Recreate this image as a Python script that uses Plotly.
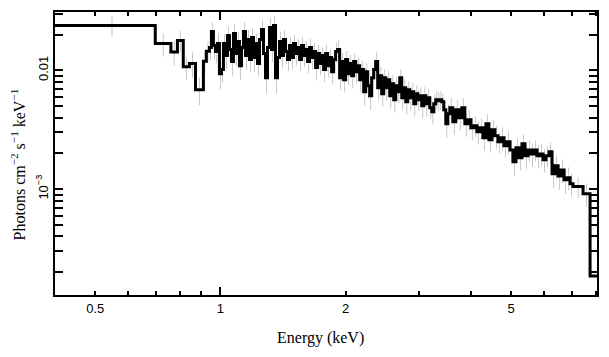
import numpy as np
import plotly.graph_objects as go

# Energy bin edges (keV)
energy_edges = [
    0.4, 0.697, 0.760, 0.788, 0.814, 0.842, 0.871, 0.910, 0.925, 0.941,
    0.9513, 0.9619, 0.9726, 0.9835, 0.9945, 1.0056, 1.0168, 1.0281, 1.0396, 1.0512,
    1.0629, 1.0748, 1.0868, 1.0989, 1.1112, 1.1236, 1.1361, 1.1488, 1.1616, 1.1745,
    1.1877, 1.2009, 1.2143, 1.2279, 1.2416, 1.2554, 1.2694, 1.2836, 1.2979, 1.3124,
    1.3270, 1.3418, 1.3568, 1.3719, 1.3872, 1.4027, 1.4183, 1.4342, 1.4502, 1.4663,
    1.4827, 1.4993, 1.5160, 1.5329, 1.5500, 1.5673, 1.5849, 1.6025, 1.6204, 1.6385,
    1.6568, 1.6753, 1.6940, 1.7128, 1.7320, 1.7513, 1.7708, 1.7906, 1.8106, 1.8308,
    1.8512, 1.8719, 1.8927, 1.9139, 1.9352, 1.9568, 1.9787, 2.0007, 2.0231, 2.0456,
    2.0685, 2.0916, 2.1149, 2.1385, 2.1624, 2.1865, 2.2109, 2.2356, 2.2605, 2.2857,
    2.3112, 2.3370, 2.3631, 2.3894, 2.4161, 2.4430, 2.4703, 2.4978, 2.5257, 2.5539,
    2.5824, 2.6112, 2.6403, 2.6698, 2.6996, 2.7297, 2.7601, 2.7909, 2.8221, 2.8535,
    2.8854, 2.9176, 2.9501, 2.9830, 3.0163, 3.0500, 3.0840, 3.1184, 3.1532, 3.1883,
    3.2239, 3.2599, 3.2962, 3.3330, 3.3702, 3.4078, 3.4458, 3.4843, 3.5231, 3.5624,
    3.6222, 3.6830, 3.7449, 3.8078, 3.8717, 3.9367, 4.0033, 4.0705, 4.1388, 4.2083,
    4.2790, 4.3508, 4.4239, 4.4982, 4.5737, 4.6505, 4.7286, 4.8080, 4.8887, 4.9708,
    5.0543, 5.1391, 5.2254, 5.3131, 5.4024, 5.4931, 5.5853, 5.6791, 5.7744, 5.8714,
    5.9700, 6.0702, 6.1721, 6.2758, 6.3811, 6.4883, 6.5972, 6.7080, 6.8206, 6.9351,
    7.050, 7.452, 7.747, 8.05,
]

# Unfolded flux per bin (photons cm^-2 s^-1 keV^-1)
flux = [
    0.0238, 0.0168, 0.0143, 0.0178, 0.0107, 0.0114, 0.00688, 0.0119, 0.0145,
    0.01554, 0.02121, 0.01615, 0.01438, 0.01680, 0.00938, 0.01014, 0.01680, 0.01330, 0.01962,
    0.01495, 0.01184, 0.02039, 0.01383, 0.01746, 0.01095, 0.01554, 0.02121, 0.01330, 0.01815,
    0.01231, 0.01887, 0.01280, 0.01680, 0.01139, 0.01815, 0.02204, 0.01383, 0.00868, 0.01554,
    0.02291, 0.01495, 0.02381, 0.00868, 0.01280, 0.01746, 0.01330, 0.01815, 0.01438, 0.01231,
    0.01615, 0.01280, 0.01680, 0.01383, 0.01554, 0.01231, 0.01615, 0.01330, 0.01495, 0.01184,
    0.01554, 0.01280, 0.01438, 0.01054, 0.01383, 0.01139, 0.01330, 0.01014, 0.01383, 0.01095,
    0.01280, 0.00975, 0.01231, 0.01438, 0.01495, 0.00868, 0.01184, 0.00835, 0.01231, 0.00938,
    0.01139, 0.00902, 0.01184, 0.00975, 0.01095, 0.00835, 0.01014, 0.00661, 0.00975, 0.00743,
    0.00612, 0.00868, 0.01014, 0.01184, 0.00715, 0.00902, 0.00636, 0.00868, 0.00715, 0.00835,
    0.00612, 0.00772, 0.00566, 0.00743, 0.00661, 0.00868, 0.00589, 0.00715, 0.00545, 0.00688,
    0.00589, 0.00661, 0.00524, 0.00636, 0.00566, 0.00612, 0.00504, 0.00612, 0.00524, 0.00589,
    0.00485, 0.00449, 0.00524, 0.00566, 0.00555, 0.00566, 0.00545, 0.00466, 0.00355, 0.00431,
    0.00485, 0.00369, 0.00466, 0.00399, 0.00485, 0.00355, 0.00384, 0.00329, 0.00342, 0.00304,
    0.00329, 0.00271, 0.00355, 0.00260, 0.00316, 0.00281, 0.00250, 0.00271, 0.00232, 0.00250,
    0.00214, 0.00170, 0.00223, 0.00184, 0.00241, 0.00191, 0.00214, 0.00198, 0.00214, 0.00191,
    0.00198, 0.00177, 0.00191, 0.00206, 0.00135, 0.00157, 0.00129, 0.00145, 0.00120, 0.00125,
    0.00111, 0.00105, 0.000913, 0.000186,
]

# Relative 1-sigma errors per bin
rel_err = [
    0.20, 0.22, 0.24, 0.20, 0.22, 0.24, 0.26, 0.22, 0.20,
    0.22, 0.20, 0.24, 0.20, 0.22, 0.26, 0.22, 0.20, 0.24, 0.20,
    0.22, 0.24, 0.20, 0.22, 0.20, 0.24, 0.22, 0.20, 0.24, 0.20,
    0.22, 0.20, 0.24, 0.20, 0.22, 0.20, 0.20, 0.22, 0.26, 0.20,
    0.20, 0.22, 0.20, 0.26, 0.22, 0.20, 0.22, 0.20, 0.22, 0.20,
    0.18, 0.20, 0.18, 0.20, 0.18, 0.20, 0.18, 0.20, 0.18, 0.20,
    0.18, 0.20, 0.18, 0.22, 0.18, 0.20, 0.18, 0.22, 0.18, 0.20,
    0.18, 0.22, 0.18, 0.20, 0.20, 0.22, 0.18, 0.22, 0.18, 0.20,
    0.18, 0.22, 0.18, 0.20, 0.18, 0.22, 0.18, 0.24, 0.18, 0.22,
    0.24, 0.20, 0.18, 0.20, 0.22, 0.18, 0.22, 0.18, 0.22, 0.18,
    0.22, 0.18, 0.22, 0.18, 0.20, 0.18, 0.22, 0.18, 0.22, 0.18,
    0.22, 0.18, 0.22, 0.18, 0.20, 0.18, 0.22, 0.18, 0.22, 0.18,
    0.20, 0.22, 0.18, 0.18, 0.18, 0.18, 0.18, 0.20, 0.24, 0.20,
    0.20, 0.22, 0.20, 0.22, 0.20, 0.22, 0.20, 0.22, 0.20, 0.22,
    0.20, 0.22, 0.20, 0.22, 0.20, 0.22, 0.20, 0.22, 0.20, 0.22,
    0.20, 0.24, 0.20, 0.22, 0.20, 0.22, 0.20, 0.22, 0.20, 0.22,
    0.20, 0.22, 0.20, 0.20, 0.24, 0.22, 0.24, 0.22, 0.24, 0.22,
    0.22, 0.20, 0.22, 0.0,
]

x_tick_vals = [0.5, 1, 2, 5]
x_tick_text = ["0.5", "1", "2", "5"]
x_minor_vals = [0.4, 0.6, 0.7, 0.8, 0.9, 3, 4, 6, 7, 8]
y_tick_vals = [1e-3, 1e-2]
y_tick_text = ["10<sup>\u22123</sup>", "0.01"]
y_minor_vals = [2e-4, 3e-4, 4e-4, 5e-4, 6e-4, 7e-4, 8e-4, 9e-4,
                2e-3, 3e-3, 4e-3, 5e-3, 6e-3, 7e-3, 8e-3, 9e-3, 0.02, 0.03]

assert len(flux) == len(energy_edges) - 1 == len(rel_err)

e = np.array(energy_edges)
f = np.array(flux)
centers = 0.5 * (e[:-1] + e[1:])
err = f * np.array(rel_err)

XR = [np.log10(0.4), np.log10(8.05)]
YR = [-3.891, -1.509]

fig = go.Figure()
fig.add_trace(go.Scatter(
    x=centers, y=f, mode="markers",
    marker=dict(size=1, color="rgba(0,0,0,0)"),
    error_y=dict(type="data", array=err, color="#c8c8c8", thickness=1, width=0),
    hoverinfo="skip", showlegend=False,
))
fig.add_trace(go.Scatter(
    x=energy_edges, y=flux + [flux[-1]], mode="lines",
    line=dict(shape="hv", color="black", width=3),
    showlegend=False,
))
fig.add_trace(go.Scatter(x=[1], y=[1e-2], xaxis="x2", mode="markers",
                         marker=dict(size=1, color="rgba(0,0,0,0)"),
                         hoverinfo="skip", showlegend=False))

tickfont = dict(family="Liberation Sans, Arial, sans-serif", size=13, color="black")
serif = dict(family="Liberation Serif, Times New Roman, serif", size=16, color="black")

fig.update_layout(
    width=609, height=357,
    margin=dict(l=55, r=12, t=12, b=62),
    paper_bgcolor="white", plot_bgcolor="white",
    xaxis=dict(
        type="log", range=XR, automargin=False,
        showline=True, linecolor="black", linewidth=2, mirror="allticks",
        ticks="inside", ticklen=4, tickwidth=1.5, tickcolor="black",
        tickmode="array", tickvals=x_tick_vals, ticktext=x_tick_text,
        tickfont=tickfont, showgrid=False, zeroline=False,
        minor=dict(tickmode="array", tickvals=x_minor_vals, ticks="inside",
                   ticklen=4, tickwidth=1.5, tickcolor="black", showgrid=False),
    ),
    xaxis2=dict(
        type="log", range=XR, overlaying="x", anchor="y", side="bottom",
        showline=False, mirror="allticks",
        ticks="inside", ticklen=8, tickwidth=1.5, tickcolor="black",
        tickmode="array", tickvals=[1], showticklabels=False,
        showgrid=False, zeroline=False, automargin=False,
    ),
    yaxis=dict(
        type="log", range=YR, automargin=False,
        showline=True, linecolor="black", linewidth=2, mirror="allticks",
        ticks="inside", ticklen=8, tickwidth=1.5, tickcolor="black",
        tickmode="array", tickvals=y_tick_vals, ticktext=y_tick_text,
        tickangle=-90, tickfont=tickfont, showgrid=False, zeroline=False,
        minor=dict(tickmode="array", tickvals=y_minor_vals, ticks="inside",
                   ticklen=4, tickwidth=1.5, tickcolor="black", showgrid=False),
    ),
    annotations=[
        dict(text="Energy (keV)", xref="paper", yref="paper", x=0.489, y=-0.152,
             xanchor="center", yanchor="middle", showarrow=False, font=serif),
        dict(text="Photons cm<sup>\u22122</sup> s<sup>\u22121</sup> keV<sup>\u22121</sup>",
             xref="paper", yref="paper", x=-0.069, y=0.46, textangle=-90,
             xanchor="center", yanchor="middle", showarrow=False, font=serif),
    ],
)

fig.write_html("out.html",
               config={"displayModeBar": False},
               post_script="document.body.style.margin='0';document.body.style.padding='0';")
